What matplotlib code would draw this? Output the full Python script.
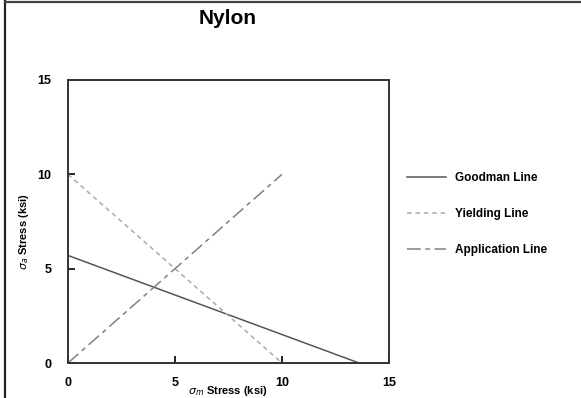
import matplotlib
matplotlib.use("Agg")
import matplotlib.pyplot as plt
from matplotlib.lines import Line2D

plt.rcParams["font.family"] = ["Liberation Sans", "DejaVu Sans"]
plt.rcParams["mathtext.fontset"] = "dejavusans"

# data (sigma_m, sigma_a) in ksi
goodman_x = [0, 13.6]
goodman_y = [5.7, 0]
yield_x = [0, 10]
yield_y = [10, 0]
app_x = [0, 10]
app_y = [0, 10]
ticks = [0, 5, 10, 15]

W, H = 581, 398
fig = plt.figure(figsize=(W / 100, H / 100), dpi=100)
ax = fig.add_axes([68 / W, 1 - 363 / H, (389 - 68) / W, (363 - 80) / H])

ax.plot(goodman_x, goodman_y, color="#555555", lw=1.1, label="Goodman Line")
ax.plot(yield_x, yield_y, color="#aaaaaa", lw=1.1, ls=(0, (3, 2.5)), label="Yielding Line")
ax.plot(app_x, app_y, color="#808080", lw=1.1, ls=(0, (9, 3, 3, 3)), label="Application Line")

ax.set_xlim(0, 15)
ax.set_ylim(0, 15)
ax.set_xticks(ticks)
ax.set_yticks(ticks)
ax.tick_params(direction="in", length=5, width=1.2, labelsize=9)
ax.tick_params(axis="y", pad=12)
ax.tick_params(axis="x", pad=10)
for lab in ax.get_xticklabels() + ax.get_yticklabels():
    lab.set_fontweight("heavy")
for sp in ax.spines.values():
    sp.set_linewidth(1.4)
    sp.set_color("#333333")

fig.text(228 / W, 1 - 19 / H, "Nylon", ha="center", va="center", fontsize=15, fontweight="heavy")
fig.text(24 / W, 1 - 232 / H, r"$\sigma_a$ Stress (ksi)", rotation=90, ha="center", va="center",
         fontsize=8, fontweight="bold")
fig.text(228 / W, 1 - 391 / H, r"$\sigma_m$ Stress (ksi)", ha="center", va="center",
         fontsize=8, fontweight="bold")

ax.legend(loc="center left", bbox_to_anchor=(396 / W, 1 - 214 / H), bbox_transform=fig.transFigure,
          frameon=False, handlelength=3.3, labelspacing=2.05, prop={"weight": "bold", "size": 8.5})

# figure frame (left and top edges)
fig.add_artist(Line2D([5 / W, 5 / W], [0, 1 - 1 / H], transform=fig.transFigure, color="#222222", lw=1.6))
fig.add_artist(Line2D([5 / W, 1], [1 - 1.5 / H, 1 - 1.5 / H], transform=fig.transFigure, color="#444444", lw=1.6))

fig.savefig("out.png", dpi=100)
